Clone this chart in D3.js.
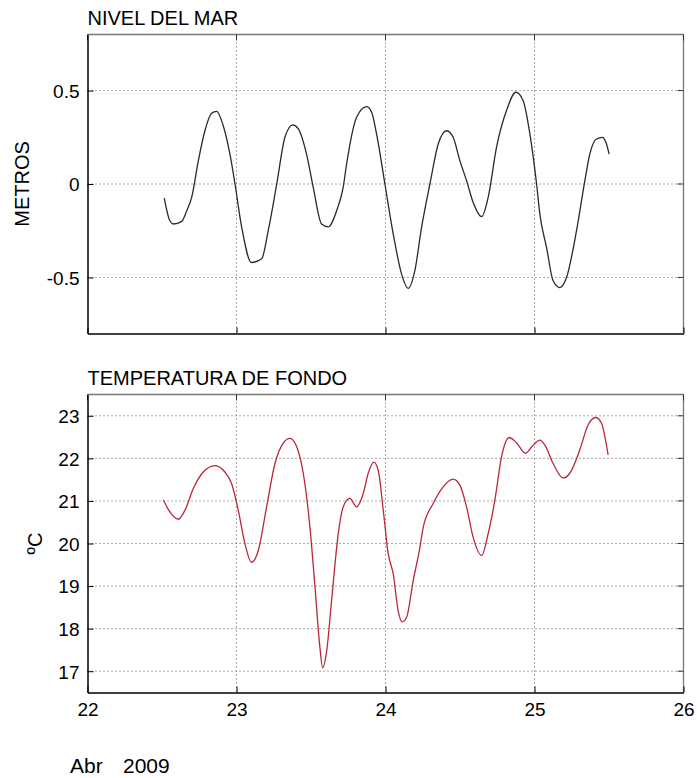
<!DOCTYPE html>
<html lang="es">
<head>
<meta charset="UTF-8">
<script src="https://d3js.org/d3.v7.min.js"></script>
<style>
  body { margin: 0; background: #fff; }
  text { font-family: "Liberation Sans", Arial, sans-serif; fill: #000; }
</style>
</head>
<body>
<svg width="697" height="778" id="chart"></svg>
<script>
// sea level (m), day of April 2009
const nivelDias = [22.515, 22.553, 22.576, 22.632, 22.666, 22.699, 22.744, 22.788, 22.833, 22.867,
  22.911, 22.956, 22.99, 23.035, 23.10, 23.169, 23.213, 23.27, 23.325, 23.377, 23.415, 23.47,
  23.515, 23.571, 23.616, 23.672, 23.716, 23.739, 23.806, 23.873, 23.907, 23.94, 23.996, 24.052,
  24.108, 24.152, 24.197, 24.242, 24.298, 24.354, 24.41, 24.454, 24.499, 24.544, 24.588, 24.645,
  24.689, 24.745, 24.812, 24.875, 24.924, 24.969, 25.014, 25.036, 25.081, 25.125, 25.17, 25.215,
  25.282, 25.338, 25.371, 25.416, 25.456, 25.479, 25.501];
const nivelVals = [-0.075, -0.197, -0.214, -0.20, -0.143, -0.072, 0.125, 0.285, 0.378, 0.389,
  0.312, 0.16, 0, -0.232, -0.42, -0.40, -0.25, 0, 0.25, 0.316, 0.295, 0.16,
  -0.018, -0.214, -0.229, -0.143, -0.018, 0.107, 0.357, 0.414, 0.384, 0.268, 0, -0.268,
  -0.482, -0.559, -0.464, -0.232, 0, 0.214, 0.285, 0.25, 0.125, 0.018, -0.098, -0.175,
  -0.072, 0.196, 0.393, 0.491, 0.446, 0.268, 0, -0.161, -0.34, -0.518, -0.554, -0.5,
  -0.25, 0.018, 0.16, 0.241, 0.25, 0.223, 0.16];

// bottom temperature (ºC)
const tempDias = [22.509, 22.553, 22.609, 22.654, 22.71, 22.777, 22.855, 22.922, 22.967, 23.012,
  23.057, 23.10, 23.146, 23.202, 23.258, 23.314, 23.359, 23.404, 23.448, 23.493, 23.527, 23.56,
  23.578, 23.605, 23.638, 23.683, 23.716, 23.761, 23.806, 23.85, 23.884, 23.922, 23.951, 23.985,
  24.018, 24.052, 24.085, 24.112, 24.141, 24.186, 24.231, 24.253, 24.32, 24.387, 24.454, 24.499,
  24.544, 24.588, 24.645, 24.689, 24.734, 24.779, 24.83, 24.88, 24.94, 24.991, 25.036, 25.07,
  25.125, 25.192, 25.237, 25.304, 25.36, 25.411, 25.449, 25.494];
const tempVals = [21.02, 20.74, 20.57, 20.78, 21.29, 21.68, 21.83, 21.68, 21.41, 20.78,
  19.99, 19.56, 19.83, 20.86, 21.88, 22.36, 22.47, 22.27, 21.65, 20.38, 18.97, 17.55,
  17.08, 17.47, 18.65, 20.23, 20.86, 21.06, 20.86, 21.17, 21.65, 21.91, 21.72, 20.78,
  19.76, 19.28, 18.42, 18.16, 18.26, 19.13, 19.91, 20.38, 20.94, 21.33, 21.51, 21.37,
  20.86, 20.15, 19.72, 20.23, 21.02, 22.04, 22.49, 22.36, 22.12, 22.31, 22.43, 22.31,
  21.88, 21.54, 21.65, 22.2, 22.79, 22.96, 22.83, 22.08];

const xTicks = [22, 23, 24, 25, 26];
const nivelTicks = [-0.5, 0, 0.5];
const nivelTickLabels = ["-0.5", "0", "0.5"];
const tempTicks = [17, 18, 19, 20, 21, 22, 23];

const svg = d3.select("#chart");
const left = 87.5, right = 683.5;

const x = d3.scaleLinear().domain([22, 26]).range([left, right]);

function panel(opts) {
  const y = d3.scaleLinear().domain(opts.domain).range([opts.bottom, opts.top]);
  const g = svg.append("g");

  // dotted grid
  g.selectAll(".gx").data(xTicks.slice(1, -1)).enter().append("line")
    .attr("x1", d => x(d)).attr("x2", d => x(d))
    .attr("y1", opts.top).attr("y2", opts.bottom)
    .attr("stroke", "#555").attr("stroke-width", 1).attr("stroke-dasharray", "1,3");
  g.selectAll(".gy").data(opts.ticks).enter().append("line")
    .attr("x1", left).attr("x2", right)
    .attr("y1", d => y(d)).attr("y2", d => y(d))
    .attr("stroke", "#555").attr("stroke-width", 1).attr("stroke-dasharray", "1,3");

  // box: top/right grey
  g.append("line").attr("x1", left).attr("x2", right).attr("y1", opts.top).attr("y2", opts.top)
    .attr("stroke", "#777").attr("stroke-width", 1.3);
  g.append("line").attr("x1", right).attr("x2", right).attr("y1", opts.top).attr("y2", opts.bottom)
    .attr("stroke", "#777").attr("stroke-width", 1.3);

  // inward ticks on top and right
  g.selectAll(".tt").data(xTicks).enter().append("line")
    .attr("x1", d => x(d)).attr("x2", d => x(d))
    .attr("y1", opts.top).attr("y2", opts.top + 6).attr("stroke", "#333");
  g.selectAll(".tr").data(opts.ticks).enter().append("line")
    .attr("x1", right).attr("x2", right - 6)
    .attr("y1", d => y(d)).attr("y2", d => y(d)).attr("stroke", "#333");

  // left and bottom axes
  const ax = g.append("g").attr("transform", "translate(0," + opts.bottom + ")")
    .call(d3.axisBottom(x).tickValues(xTicks).tickSizeInner(-6).tickSizeOuter(0)
      .tickFormat(opts.xLabels ? d3.format("d") : ""));
  const ay = g.append("g").attr("transform", "translate(" + left + ",0)")
    .call(d3.axisLeft(y).tickValues(opts.ticks).tickSizeInner(-6).tickSizeOuter(0)
      .tickFormat(opts.fmt));
  [ax, ay].forEach(a => {
    a.select(".domain").attr("stroke", "#000").attr("stroke-width", 1.5);
    a.selectAll(".tick line").attr("stroke", "#000");
    a.selectAll(".tick text").style("font-size", "19px")
      .style("font-family", "'Liberation Sans', Arial, sans-serif");
  });
  ay.selectAll(".tick text").attr("x", -8).attr("dy", "0.36em");
  ax.selectAll(".tick text").attr("y", 10).attr("dy", "0.71em");

  // series
  const line = d3.line()
    .x((d, i) => x(opts.days[i]))
    .y(d => y(d))
    .curve(d3.curveMonotoneX);
  g.append("path").datum(opts.vals)
    .attr("d", line).attr("fill", "none")
    .attr("stroke", opts.color).attr("stroke-width", 1.3);

  // title and y label
  g.append("text").attr("x", left).attr("y", opts.top - 10)
    .style("font-size", "20px").text(opts.title);
  g.append("text")
    .attr("transform", "translate(" + opts.ylabX + "," + ((opts.top + opts.bottom) / 2) + ") rotate(-90)")
    .style("text-anchor", "middle").style("font-size", "20px").text(opts.ylabel);
}

panel({
  top: 34.5, bottom: 333.5, domain: [-0.8, 0.8], ticks: nivelTicks,
  fmt: (d, i) => nivelTickLabels[i],
  days: nivelDias, vals: nivelVals, color: "#2a2a2a",
  title: "NIVEL DEL MAR", ylabel: "METROS", ylabX: 29, xLabels: false
});

panel({
  top: 394.5, bottom: 692.5, domain: [16.5, 23.5], ticks: tempTicks,
  fmt: d3.format("d"),
  days: tempDias, vals: tempVals, color: "#b8283c",
  title: "TEMPERATURA DE FONDO", ylabel: "ºC", ylabX: 42, xLabels: true
});

// month / year under the time axis
svg.append("text").attr("x", 70).attr("y", 773).style("font-size", "21px").text("Abr");
svg.append("text").attr("x", 123).attr("y", 773).style("font-size", "21px").text("2009");
</script>
</body>
</html>
